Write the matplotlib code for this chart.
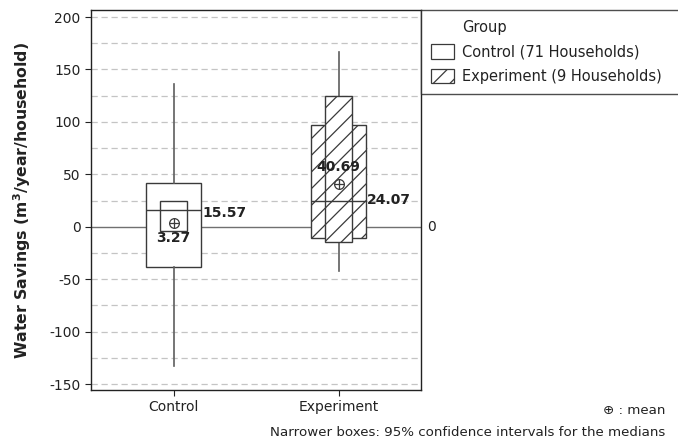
import matplotlib
matplotlib.use("Agg")
import matplotlib.pyplot as plt
from matplotlib.patches import Patch

# ---------- data ----------
groups = ["Control", "Experiment"]
legend_labels = ["Control (71 Households)", "Experiment (9 Households)"]
q1 = [-38.8, -10.5]
q3 = [41.5, 97.2]
medians = [15.57, 24.07]
means = [3.27, 40.69]
whisker_lo = [-132.9, -42.0]
whisker_hi = [136.1, 166.7]
ci_lo = [-3.8, -14.9]
ci_hi = [24.6, 124.3]
hatches = ["", "//"]

yticks = [-150, -100, -50, 0, 50, 100, 150, 200]
ygrid = [-150, -125, -100, -75, -50, -25, 25, 50, 75, 100, 125, 150, 175, 200]

edge = "#3a3a3a"
whisk = "#5e5e5e"
txt = "#222222"

plt.rcParams["font.family"] = "DejaVu Sans"
plt.rcParams["hatch.linewidth"] = 0.9

fig = plt.figure(figsize=(6.78, 4.43), dpi=100, facecolor="white")
ax = fig.add_axes([91 / 678, 53 / 443, 330 / 678, 380 / 443])

pos = [1, 2]
stats = []
for i in range(len(groups)):
    stats.append(dict(med=medians[i], q1=q1[i], q3=q3[i],
                      whislo=whisker_lo[i], whishi=whisker_hi[i],
                      mean=means[i], fliers=[], label=groups[i]))

# grid + zero reference line
for g in ygrid:
    ax.axhline(g, color="#c4c4c4", lw=0.9, ls=(0, (5, 3)), zorder=0)
ax.axhline(0, color="#707070", lw=1.0, zorder=1)

bp = ax.bxp(stats, positions=pos, widths=0.335, showmeans=False,
            showcaps=False, patch_artist=True,
            boxprops=dict(facecolor="white", edgecolor=edge, lw=1.0),
            medianprops=dict(color=edge, lw=1.0),
            whiskerprops=dict(color=whisk, lw=1.2),
            zorder=2)
for b, h in zip(bp["boxes"], hatches):
    b.set_hatch(h)
for m in bp["medians"]:
    m.set_zorder(4)

# narrower boxes: 95% CI for the medians
for p, lo, hi, h in zip(pos, ci_lo, ci_hi, hatches):
    ax.bar(p, hi - lo, bottom=lo, width=0.165, facecolor="white",
           edgecolor=edge, lw=1.0, hatch=h, zorder=3)

# means
ax.plot(pos, means, ls="none", marker="o", ms=7, mfc="none", mec=edge,
        mew=0.9, zorder=5)
ax.plot(pos, means, ls="none", marker="+", ms=7, mec=edge, mew=0.9, zorder=5)

# value labels
ax.text(pos[0] + 0.175, medians[0] - 2, f"{medians[0]:.2f}", fontsize=10,
        fontweight="bold", ha="left", va="center", color=txt, zorder=6)
ax.text(pos[0], means[0] - 7, f"{means[0]:.2f}", fontsize=10,
        fontweight="bold", ha="center", va="top", color=txt, zorder=6)
ax.text(pos[1], means[1] + 10, f"{means[1]:.2f}", fontsize=10,
        fontweight="bold", ha="center", va="bottom", color=txt, zorder=6)
ax.text(pos[1] + 0.175, medians[1] + 1, f"{medians[1]:.2f}", fontsize=10,
        fontweight="bold", ha="left", va="center", color=txt, zorder=6)

ax.text(2.54, 0, "0", fontsize=10, ha="left", va="center", color=txt,
        clip_on=False)

ax.set_xlim(0.5, 2.5)
ax.set_ylim(-155.7, 206.7)
ax.set_yticks(yticks)
ax.set_yticklabels([str(v) for v in yticks])
ax.set_xticks(pos)
ax.set_xticklabels(groups)
ax.tick_params(labelsize=10, colors=txt, length=4, width=0.8)
for s in ax.spines.values():
    s.set_color(txt)
    s.set_linewidth(1.0)

ax.set_ylabel("Water Savings (m$^\\mathbf{3}$/year/household)", fontsize=11.3,
              fontweight="bold", color=txt, labelpad=12)

# legend
handles = [Patch(visible=False),
           Patch(facecolor="white", edgecolor=edge, lw=0.9),
           Patch(facecolor="white", edgecolor=edge, lw=0.9, hatch="//")]
leg = fig.legend(handles, ["Group"] + legend_labels,
                 bbox_to_anchor=(421 / 678, 1 - 92 / 443, 262 / 678, 82 / 443),
                 loc="upper left", mode="expand", fontsize=10.5,
                 frameon=True, fancybox=False, borderaxespad=0,
                 handlelength=1.55, handleheight=1.15, handletextpad=0.55,
                 labelspacing=0.62, borderpad=0.7)
leg.get_frame().set_edgecolor(txt)
leg.get_frame().set_linewidth(1.0)
for t in leg.get_texts():
    t.set_color(txt)

fig.text(665 / 678, 1 - 410 / 443, "\u2295 : mean", fontsize=9.6, ha="right",
         va="center", color=txt)
fig.text(665 / 678, 1 - 432 / 443,
         "Narrower boxes: 95% confidence intervals for the medians",
         fontsize=9.6, ha="right", va="center", color=txt)

fig.savefig("out.png", dpi=100, facecolor="white")
